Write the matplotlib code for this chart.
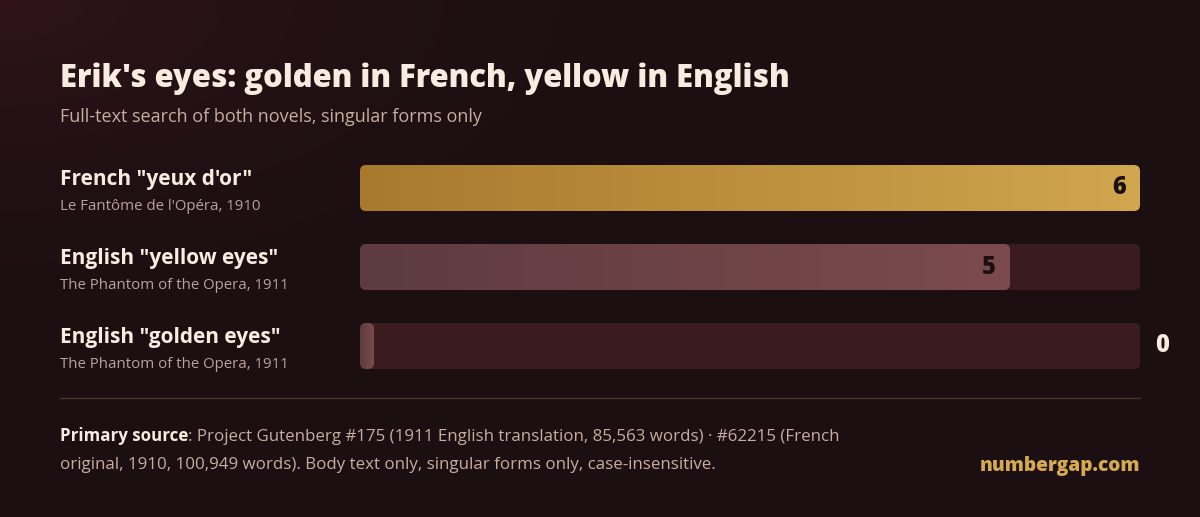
import numpy as np
import matplotlib
matplotlib.use('Agg')
from matplotlib import pyplot as plt
from matplotlib.colors import LinearSegmentedColormap
from matplotlib.patches import FancyBboxPatch

labels = ['French "yeux d\'or"', 'English "yellow eyes"', 'English "golden eyes"']
sources = ["Le Fantôme de l'Opéra, 1910", 'The Phantom of the Opera, 1911', 'The Phantom of the Opera, 1911']
counts = [6, 5, 0]
max_count = 6

title = "Erik's eyes: golden in French, yellow in English"
subtitle = 'Full-text search of both novels, singular forms only'
source_head = 'Primary source'
source_line1 = ': Project Gutenberg #175 (1911 English translation, 85,563 words) · #62215 (French'
source_line2 = 'original, 1910, 100,949 words). Body text only, singular forms only, case-insensitive.'
brand = 'numbergap.com'

FONT = 'Open Sans'
CREAM = '#f8ece0'
TAN = '#c9ad9e'
MUTED = '#b9a29a'
TRACK = '#3a1c20'
GOLD = LinearSegmentedColormap.from_list('gold', ['#a77a2e', '#d0a64e'])
ROSE = LinearSegmentedColormap.from_list('rose', ['#5d3b40', '#7c4b4d'])

W, H = 1200, 517
plt.rcParams['font.family'] = [FONT, 'DejaVu Sans']

fig = plt.figure(figsize=(W / 100, H / 100), dpi=100)

# background with a faint reddish glow in the top-left corner
bg = fig.add_axes([0, 0, 1, 1])
yy, xx = np.mgrid[0:H:2, 0:W:2]
dist = np.clip(np.hypot(xx / 800, yy / 380), 0, 1)
glow = (1 - dist) ** 2
base = np.array([0x1b, 0x0f, 0x12]) / 255
warm = np.array([0x30, 0x14, 0x19]) / 255
img = base + (warm - base) * glow[..., None]
bg.imshow(img, extent=(0, W, H, 0), aspect='auto', interpolation='bilinear')
bg.set_xlim(0, W)
bg.set_ylim(H, 0)
bg.axis('off')

# bar panel
left, right, top, bottom = 360, 1140, 165, 369
row_step, bar_px = 79, 46
h = bar_px / row_step
ax = fig.add_axes([left / W, (H - bottom) / H, (right - left) / W, (bottom - top) / H])
ax.set_facecolor('none')
ylim = (len(counts) - 1 + h / 2, -h / 2)
x_per_px = max_count / (right - left)
y_per_px = (ylim[0] - ylim[1]) / (bottom - top)
aspect = y_per_px / x_per_px
radius = 6 * x_per_px
stub = 14 * x_per_px

widths = [max(c, stub) for c in counts]
bars = ax.barh(range(len(counts)), widths, height=h, alpha=0)

for i, (bar, count) in enumerate(zip(bars, counts)):
    y0 = bar.get_y()
    track = FancyBboxPatch((0, y0), max_count, h, boxstyle=f'round,pad=0,rounding_size={radius}',
                           mutation_aspect=aspect, facecolor=TRACK, edgecolor='none')
    ax.add_patch(track)
    w = bar.get_width()
    shape = FancyBboxPatch((0, y0), w, h, boxstyle=f'round,pad=0,rounding_size={radius}',
                           mutation_aspect=aspect, facecolor='none', edgecolor='none')
    ax.add_patch(shape)
    cmap = GOLD if i == 0 else ROSE
    grad = ax.imshow(np.linspace(0, 1, 256)[None, :], cmap=cmap, extent=(0, w, y0 + h, y0),
                     aspect='auto', interpolation='bilinear', zorder=3)
    grad.set_clip_path(shape)

    if count > 0:
        ax.text(w - 14 * x_per_px, i, str(count), ha='right', va='center', fontsize=17,
                fontweight='heavy', color='#1c0f12', zorder=4)
    else:
        ax.text(max_count + 15 * x_per_px, i, str(count), ha='left', va='center', fontsize=17,
                fontweight='heavy', color=CREAM, zorder=4)

ax.set_xlim(0, max_count)
ax.set_ylim(*ylim)
ax.axis('off')

# text
bg.text(60, 87, title, fontsize=22.3, fontweight='heavy', color=CREAM, va='baseline')
bg.text(60, 122, subtitle, fontsize=13, color=TAN, va='baseline')
for i, (label, src) in enumerate(zip(labels, sources)):
    bg.text(60, 185 + i * row_step, label, fontsize=15, fontweight='bold', color=CREAM, va='baseline')
    bg.text(60, 210 + i * row_step, src, fontsize=10.8, color=MUTED, va='baseline')

bg.plot([60, 1140], [398, 398], color='#4b3629', lw=1)

head = bg.text(60, 441, source_head, fontsize=12.2, fontweight='bold', color=CREAM, va='baseline')
bg.annotate(source_line1, xy=(1, 0), xycoords=head, va='bottom', fontsize=12.2, color=TAN)
bg.text(60, 469, source_line2, fontsize=12.2, color=TAN, va='baseline')
bg.text(1140, 471, brand, fontsize=13.8, fontweight='heavy', color='#d4a94f', ha='right', va='baseline')

fig.savefig('out.png', dpi=100, facecolor='#1b0f12')
